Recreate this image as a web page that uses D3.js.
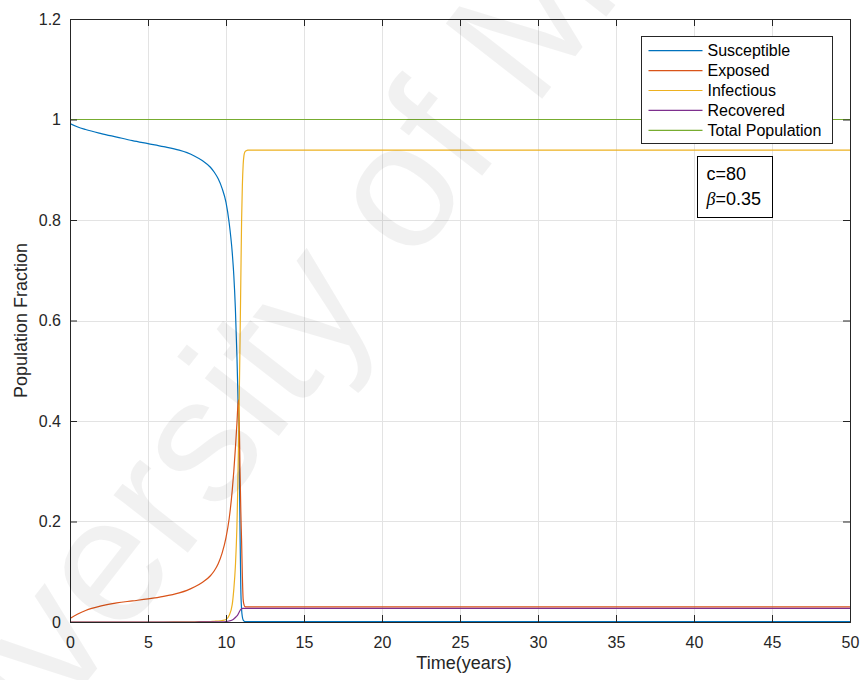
<!DOCTYPE html>
<html>
<head>
<meta charset="utf-8">
<script src="https://cdn.jsdelivr.net/npm/d3@7"></script>
<style>
  html, body { margin: 0; padding: 0; background: #fff; }
  svg { display: block; font-family: "Liberation Sans", Arial, Helvetica, sans-serif; }
</style>
</head>
<body>
<svg id="chart" width="862" height="680"></svg>
<script>
// Time grid (years) shared by all series
const time = [0, 0.5, 1, 2, 3, 4, 5, 6, 7, 7.5, 8, 8.5, 9, 9.25, 9.5, 9.75, 10, 10.2, 10.4, 10.5,
  10.6, 10.7, 10.75, 10.8, 10.85, 10.9, 10.95, 11, 11.05, 11.1, 11.15, 11.2, 11.3, 11.4, 11.6, 12,
  15, 20, 30, 40, 50];

const susceptible = [0.992, 0.985, 0.980, 0.972, 0.965, 0.958, 0.952, 0.946, 0.939, 0.934, 0.927, 0.918,
  0.905, 0.895, 0.882, 0.863, 0.835, 0.795, 0.735, 0.69, 0.625, 0.53, 0.47, 0.40, 0.32, 0.18, 0.065,
  0.025, 0.01, 0.004, 0.002, 0.001, 0.001, 0.001, 0.001, 0.001, 0.001, 0.001, 0.001, 0.001, 0.001];

const exposed = [0.007, 0.016, 0.023, 0.032, 0.038, 0.042, 0.046, 0.051, 0.058, 0.063, 0.070, 0.079,
  0.092, 0.102, 0.116, 0.137, 0.168, 0.205, 0.262, 0.30, 0.345, 0.395, 0.425, 0.442, 0.40, 0.30, 0.22,
  0.16, 0.09, 0.045, 0.035, 0.031, 0.030, 0.030, 0.030, 0.030, 0.030, 0.030, 0.030, 0.030, 0.030];

const infectious = [0, 0, 0, 0, 0, 0, 0, 0, 0.0002, 0.0003, 0.0005, 0.0008,
  0.001, 0.0015, 0.002, 0.003, 0.005, 0.013, 0.035, 0.065, 0.11, 0.19, 0.26, 0.35, 0.45, 0.56, 0.68,
  0.80, 0.87, 0.91, 0.928, 0.935, 0.938, 0.939, 0.939, 0.939, 0.939, 0.939, 0.939, 0.939, 0.939];

const recovered = [0, 0, 0, 0, 0, 0, 0, 0, 0, 0, 0, 0.0001,
  0.0002, 0.0003, 0.0004, 0.0005, 0.001, 0.002, 0.004, 0.006, 0.009, 0.012, 0.014, 0.017, 0.020, 0.023, 0.025,
  0.026, 0.027, 0.027, 0.027, 0.027, 0.027, 0.027, 0.027, 0.027, 0.027, 0.027, 0.027, 0.027, 0.027];

const totalPopulation = [1, 1, 1, 1, 1, 1, 1, 1, 1, 1, 1, 1,
  1, 1, 1, 1, 1, 1, 1, 1, 1, 1, 1, 1, 1, 1, 1,
  1, 1, 1, 1, 1, 1, 1, 1, 1, 1, 1, 1, 1, 1];

const seriesNames = ["Susceptible", "Exposed", "Infectious", "Recovered", "Total Population"];
const seriesColors = ["#0072BD", "#D95319", "#EDB120", "#7E2F8E", "#77AC30"];
const seriesValues = [susceptible, exposed, infectious, recovered, totalPopulation];

const xTicks = [0, 5, 10, 15, 20, 25, 30, 35, 40, 45, 50];
const yTicks = [0, 0.2, 0.4, 0.6, 0.8, 1, 1.2];
const yTickLabels = ["0", "0.2", "0.4", "0.6", "0.8", "1", "1.2"];

const annotationLines = [["c=80"], ["β", "=0.35"]];

// Layout
const svg = d3.select("#chart");
const plot = { left: 70, right: 850, top: 19, bottom: 622 };
const axisColor = "#262626";

const x = d3.scaleLinear().domain([0, 50]).range([plot.left, plot.right]);
const y = d3.scaleLinear().domain([0, 1.2]).range([plot.bottom, plot.top]);

svg.append("rect").attr("width", 862).attr("height", 680).attr("fill", "#fff");

// Grid
const grid = svg.append("g").attr("stroke", "#e3e3e3").attr("stroke-width", 1);
xTicks.forEach(t => grid.append("line")
  .attr("x1", Math.round(x(t)) + 0.5).attr("x2", Math.round(x(t)) + 0.5)
  .attr("y1", plot.top).attr("y2", plot.bottom));
yTicks.forEach(t => grid.append("line")
  .attr("x1", plot.left).attr("x2", plot.right)
  .attr("y1", Math.round(y(t)) + 0.5).attr("y2", Math.round(y(t)) + 0.5));

// Curves
svg.append("clipPath").attr("id", "plotClip").append("rect")
  .attr("x", plot.left).attr("y", plot.top - 2)
  .attr("width", plot.right - plot.left).attr("height", plot.bottom - plot.top + 2);

const line = d3.line()
  .x(d => x(d[0]))
  .y(d => y(d[1]))
  .curve(d3.curveMonotoneX);

const curves = svg.append("g").attr("clip-path", "url(#plotClip)");
seriesValues.forEach((vals, i) => {
  curves.append("path")
    .datum(time.map((t, k) => [t, vals[k]]))
    .attr("fill", "none")
    .attr("stroke", seriesColors[i])
    .attr("stroke-width", 1.2)
    .attr("d", line);
});

// Axes (boxed, ticks pointing inward on all four sides)
const tickLen = 7;
const axisBottom = d3.axisBottom(x).tickValues(xTicks).tickSize(-tickLen).tickPadding(15).tickFormat(d3.format("d"));
const axisTop = d3.axisTop(x).tickValues(xTicks).tickSize(-tickLen).tickFormat("");
const axisLeft = d3.axisLeft(y).tickValues(yTicks).tickSize(-tickLen).tickPadding(9)
  .tickFormat((d, i) => yTickLabels[i]);
const axisRight = d3.axisRight(y).tickValues(yTicks).tickSize(-tickLen).tickFormat("");

function styleAxis(g) {
  g.selectAll(".domain").attr("stroke", axisColor);
  g.selectAll(".tick line").attr("stroke", axisColor);
  g.selectAll(".tick text").attr("fill", axisColor).attr("font-size", 16)
    .attr("font-family", "'Liberation Sans', Arial, sans-serif");
}
svg.append("g").attr("transform", `translate(0,${plot.bottom})`).call(axisBottom).call(styleAxis);
svg.append("g").attr("transform", `translate(0,${plot.top})`).call(axisTop).call(styleAxis);
svg.append("g").attr("transform", `translate(${plot.left},0)`).call(axisLeft).call(styleAxis);
svg.append("g").attr("transform", `translate(${plot.right},0)`).call(axisRight).call(styleAxis);

// Axis titles
svg.append("text")
  .attr("x", (plot.left + plot.right) / 2 + 4).attr("y", 669)
  .attr("text-anchor", "middle").attr("font-size", 18).attr("fill", axisColor)
  .text("Time(years)");
svg.append("text")
  .attr("transform", `translate(27,${(plot.top + plot.bottom) / 2}) rotate(-90)`)
  .attr("text-anchor", "middle").attr("font-size", 18).attr("fill", axisColor)
  .text("Population Fraction");

// Legend
const legend = svg.append("g").attr("transform", "translate(641.5,36.5)");
legend.append("rect").attr("width", 191).attr("height", 107)
  .attr("fill", "#fff").attr("stroke", axisColor).attr("stroke-width", 1);
seriesNames.forEach((name, i) => {
  const cy = 14.2 + i * 19.9;
  legend.append("line").attr("x1", 7).attr("x2", 61).attr("y1", cy).attr("y2", cy)
    .attr("stroke", seriesColors[i]).attr("stroke-width", 1.2);
  legend.append("text").attr("x", 66).attr("y", cy).attr("dy", "0.36em")
    .attr("font-size", 16).attr("fill", "#000").text(name);
});

// Parameter annotation box
const note = svg.append("g").attr("transform", "translate(697.5,156.5)");
note.append("rect").attr("width", 75).attr("height", 61)
  .attr("fill", "#fff").attr("stroke", "#000").attr("stroke-width", 1);
note.append("text").attr("x", 9).attr("y", 23).attr("font-size", 18).attr("fill", "#000")
  .text(annotationLines[0][0]);
const betaLine = note.append("text").attr("x", 9).attr("y", 48).attr("font-size", 18).attr("fill", "#000");
betaLine.append("tspan").attr("font-family", "'Liberation Serif', 'Times New Roman', serif")
  .attr("font-style", "italic").text(annotationLines[1][0]);
betaLine.append("tspan").text(annotationLines[1][1]);

// Institutional watermark
svg.append("text")
  .attr("transform", "translate(-100,921) rotate(-52)")
  .attr("font-size", 178)
  .attr("fill", "#000").attr("fill-opacity", 0.055)
  .attr("pointer-events", "none")
  .text("University of Malaya");
</script>
</body>
</html>
